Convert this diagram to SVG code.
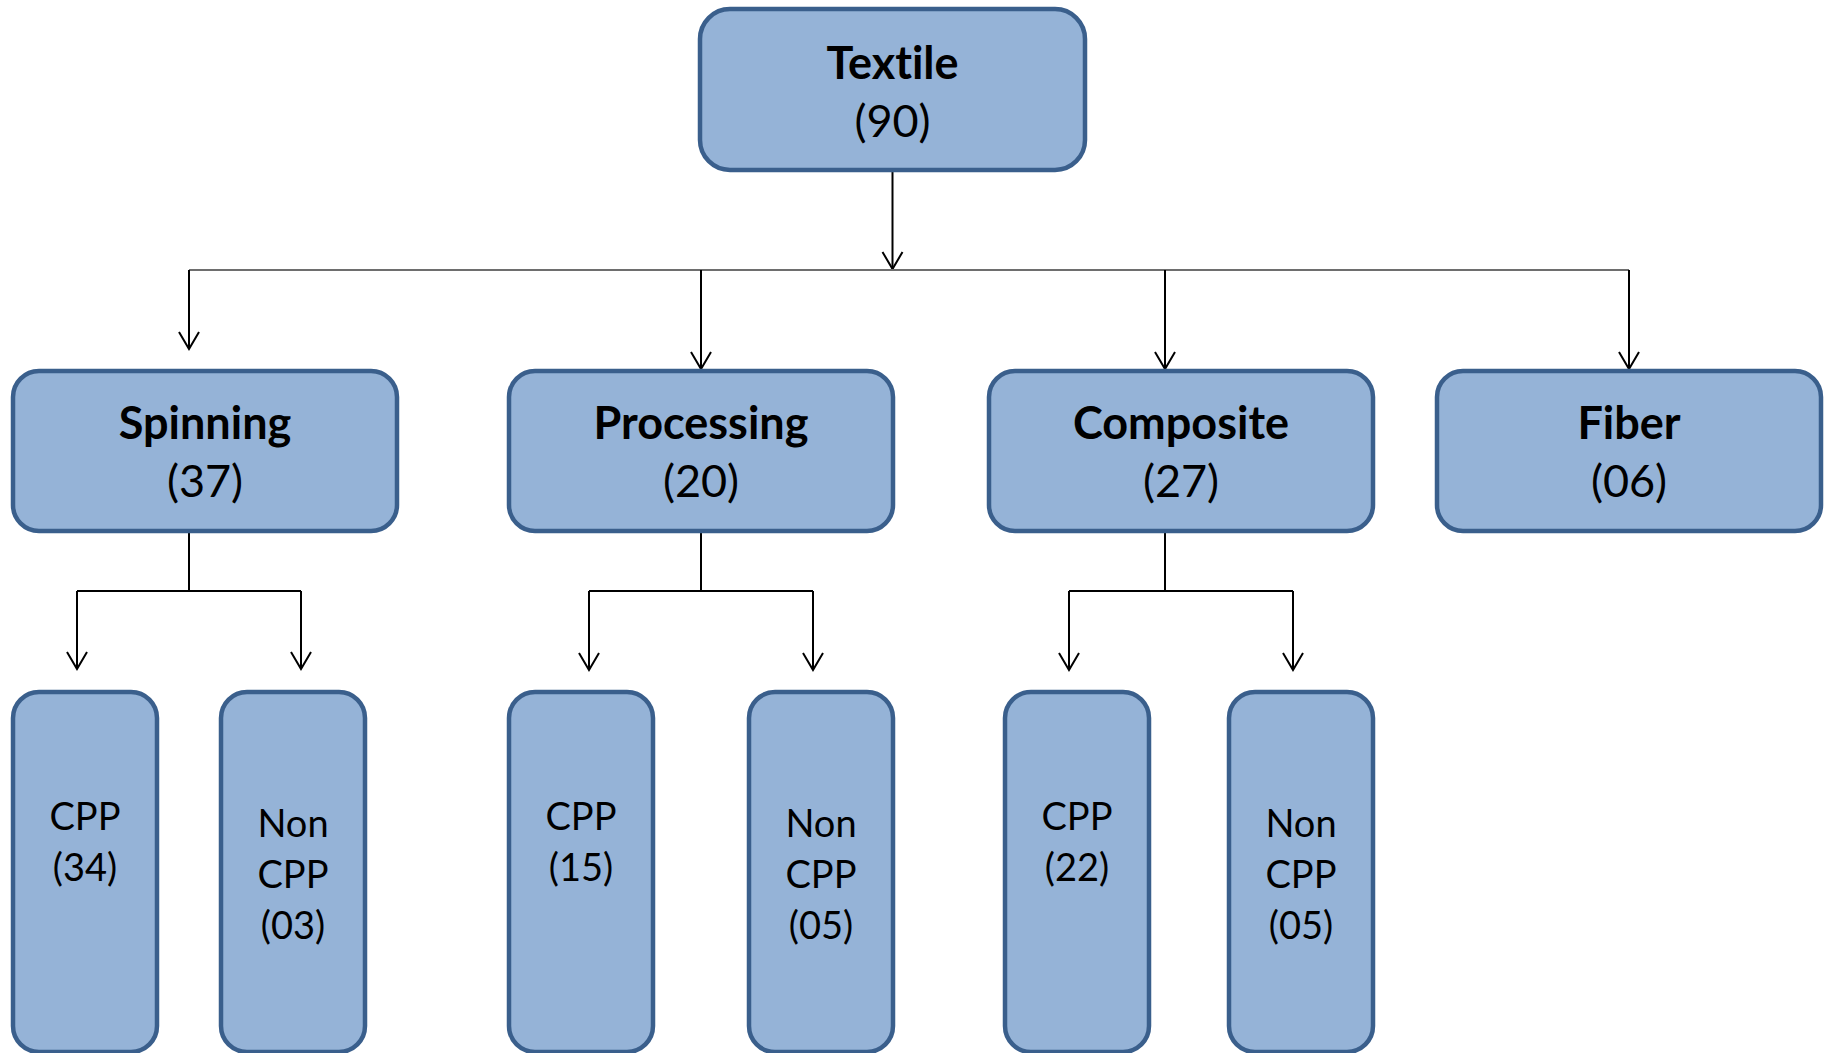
<svg xmlns="http://www.w3.org/2000/svg" width="1829" height="1053" viewBox="0 0 1829 1053">
  <style>
    text { font-family: Lato, "Liberation Sans", sans-serif; fill: #000; text-anchor: middle; font-variant-ligatures: none; }
    .box { fill: #95B3D7; stroke: #3A5F8C; stroke-width: 4.5; }
    .title { font-weight: 700; font-size: 45px; }
    .count { font-weight: 400; font-size: 45px; }
    .leaf { font-weight: 400; font-size: 38px; }
    .wire { fill: none; stroke: #000; stroke-width: 2; }
    .bus { fill: none; stroke: #6e6e6e; stroke-width: 2; }
    .arrow { marker-end: url(#head); }
  </style>
  <defs>
    <marker id="head" viewBox="0 0 20 22" refX="18" refY="11" markerWidth="20" markerHeight="22" markerUnits="userSpaceOnUse" orient="auto" overflow="visible">
      <path d="M1,1 L18,11 L1,21" fill="none" stroke="#000" stroke-width="2"/>
    </marker>
  </defs>

  <rect width="1829" height="1053" fill="#fff"/>

  <!-- connectors -->
  <g id="connectors">
    <line class="wire arrow" x1="892.5" y1="172" x2="892.5" y2="269"/>
    <line class="bus" x1="189" y1="270" x2="1629" y2="270"/>
    <line class="wire arrow" x1="189" y1="270" x2="189" y2="349"/>
    <line class="wire arrow" x1="701" y1="270" x2="701" y2="369"/>
    <line class="wire arrow" x1="1165" y1="270" x2="1165" y2="369"/>
    <line class="wire arrow" x1="1629" y1="270" x2="1629" y2="369"/>

    <!-- Spinning split -->
    <polyline class="wire" points="189,533 189,591"/>
    <line class="wire" x1="77" y1="591" x2="301" y2="591"/>
    <line class="wire arrow" x1="77" y1="591" x2="77" y2="669"/>
    <line class="wire arrow" x1="301" y1="591" x2="301" y2="669"/>

    <!-- Processing split -->
    <polyline class="wire" points="701,533 701,591"/>
    <line class="wire" x1="589" y1="591" x2="813" y2="591"/>
    <line class="wire arrow" x1="589" y1="591" x2="589" y2="670"/>
    <line class="wire arrow" x1="813" y1="591" x2="813" y2="670"/>

    <!-- Composite split -->
    <polyline class="wire" points="1165,533 1165,591"/>
    <line class="wire" x1="1069" y1="591" x2="1293" y2="591"/>
    <line class="wire arrow" x1="1069" y1="591" x2="1069" y2="670"/>
    <line class="wire arrow" x1="1293" y1="591" x2="1293" y2="670"/>
  </g>

  <!-- root -->
  <g id="textile">
    <rect class="box" x="700" y="9" width="385" height="161" rx="30"/>
    <text class="title" x="892.5" y="78.5">Textile</text>
    <text class="count" x="892.5" y="136.5">(90)</text>
  </g>

  <!-- categories -->
  <g id="spinning">
    <rect class="box" x="13" y="371" width="384" height="160" rx="26"/>
    <text class="title" x="205" y="438.5">Spinning</text>
    <text class="count" x="205" y="496.5">(37)</text>
  </g>
  <g id="processing">
    <rect class="box" x="509" y="371" width="384" height="160" rx="26"/>
    <text class="title" x="701" y="438.5">Processing</text>
    <text class="count" x="701" y="496.5">(20)</text>
  </g>
  <g id="composite">
    <rect class="box" x="989" y="371" width="384" height="160" rx="26"/>
    <text class="title" x="1181" y="438.5">Composite</text>
    <text class="count" x="1181" y="496.5">(27)</text>
  </g>
  <g id="fiber">
    <rect class="box" x="1437" y="371" width="384" height="160" rx="26"/>
    <text class="title" x="1629" y="438.5">Fiber</text>
    <text class="count" x="1629" y="496.5">(06)</text>
  </g>

  <!-- leaves -->
  <g id="spinning-cpp">
    <rect class="box" x="13" y="692" width="144" height="360" rx="26"/>
    <text class="leaf" x="85" y="830">CPP</text>
    <text class="leaf" x="85" y="881">(34)</text>
  </g>
  <g id="spinning-noncpp">
    <rect class="box" x="221" y="692" width="144" height="360" rx="26"/>
    <text class="leaf" x="293" y="837">Non</text>
    <text class="leaf" x="293" y="888">CPP</text>
    <text class="leaf" x="293" y="939">(03)</text>
  </g>
  <g id="processing-cpp">
    <rect class="box" x="509" y="692" width="144" height="360" rx="26"/>
    <text class="leaf" x="581" y="830">CPP</text>
    <text class="leaf" x="581" y="881">(15)</text>
  </g>
  <g id="processing-noncpp">
    <rect class="box" x="749" y="692" width="144" height="360" rx="26"/>
    <text class="leaf" x="821" y="837">Non</text>
    <text class="leaf" x="821" y="888">CPP</text>
    <text class="leaf" x="821" y="939">(05)</text>
  </g>
  <g id="composite-cpp">
    <rect class="box" x="1005" y="692" width="144" height="360" rx="26"/>
    <text class="leaf" x="1077" y="830">CPP</text>
    <text class="leaf" x="1077" y="881">(22)</text>
  </g>
  <g id="composite-noncpp">
    <rect class="box" x="1229" y="692" width="144" height="360" rx="26"/>
    <text class="leaf" x="1301" y="837">Non</text>
    <text class="leaf" x="1301" y="888">CPP</text>
    <text class="leaf" x="1301" y="939">(05)</text>
  </g>
</svg>
